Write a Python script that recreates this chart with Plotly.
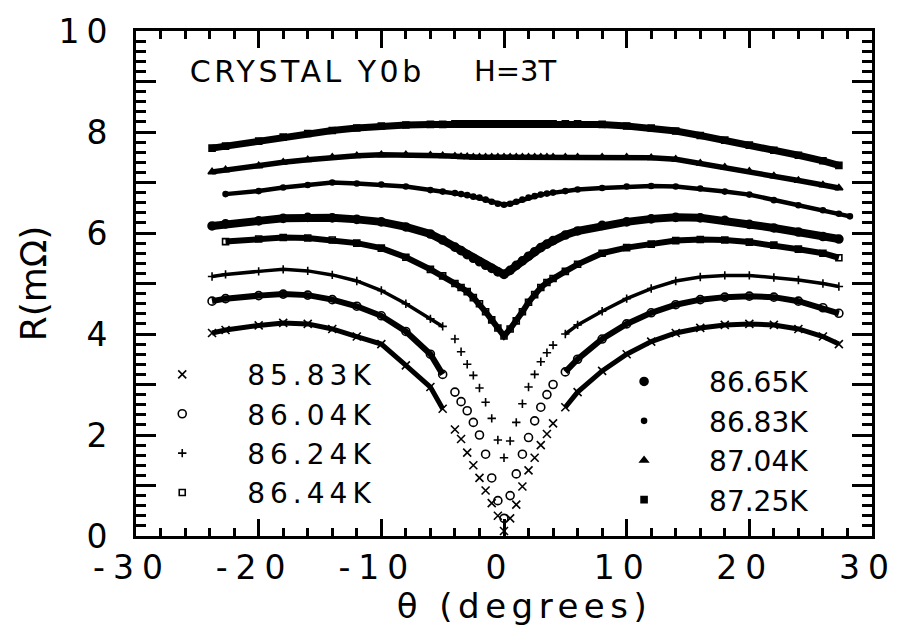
import plotly.graph_objects as go

FONT = "DejaVu Sans"

# Field angle (degrees) at which each resistance curve is tabulated
THETA = [-23.8, -22.7, -20, -18, -16, -14, -12, -10, -8, -6, -5,
         -4, -3.5, -3, -2.5, -2, -1.5, -1, -0.5,
         0,
         0.5, 1, 1.5, 2, 2.5, 3, 3.5, 4,
         5, 6, 8, 10, 12, 14, 16, 18, 20, 22, 24, 26, 27.3, 28.2]

# Resistance R (mOhm) vs angle, one list per temperature
R_8583 = [4.02, 4.08, 4.17, 4.22, 4.20, 4.10, 3.95, 3.80, 3.38, 2.95, 2.52,
          2.11, 1.92, 1.65, 1.40, 1.15, 0.90, 0.65, 0.40,
          0.10,
          0.35, 0.62, 0.98, 1.30, 1.55, 1.80, 2.02, 2.23,
          2.55, 2.85, 3.27, 3.60, 3.85, 4.02, 4.12, 4.18, 4.20, 4.18, 4.10, 3.95, 3.80, None]
R_8604 = [4.65, 4.70, 4.76, 4.79, 4.77, 4.68, 4.55, 4.36, 4.05, 3.60, 3.20,
          2.85, 2.66, 2.48, 2.25, 2.00, 1.62, 1.15, 0.70,
          0.35,
          0.80, 1.23, 1.62, 1.95, 2.28, 2.55, 2.80, 3.00,
          3.25, 3.50, 3.90, 4.20, 4.42, 4.58, 4.68, 4.73, 4.75, 4.73, 4.65, 4.52, 4.41, None]
R_8624 = [5.14, 5.18, 5.24, 5.28, 5.25, 5.17, 5.05, 4.86, 4.60, 4.30, 4.15,
          3.90, 3.65, 3.40, 3.18, 2.93, 2.65, 2.33, 1.90,
          1.55,
          1.88, 2.25, 2.62, 2.95, 3.20, 3.45, 3.63, 3.78,
          4.00, 4.18, 4.45, 4.70, 4.90, 5.05, 5.13, 5.16, 5.16, 5.12, 5.07, 5.00, 4.94, None]
R_8644 = [None, 5.83, 5.88, 5.91, 5.90, 5.86, 5.80, 5.70, 5.52, 5.28, 5.15,
          5.00, 4.92, 4.84, 4.72, 4.60, 4.44, 4.28, 4.12,
          3.96,
          4.10, 4.26, 4.44, 4.63, 4.78, 4.92, 5.02, 5.10,
          5.24, 5.38, 5.60, 5.71, 5.78, 5.85, 5.87, 5.86, 5.82, 5.76, 5.68, 5.60, 5.51, None]
R_8665 = [6.14, 6.18, 6.24, 6.29, 6.31, 6.30, 6.27, 6.22, 6.12, 5.98, 5.86,
          5.72, 5.65, 5.57, 5.50, 5.43, 5.36, 5.30, 5.23,
          5.18,
          5.26, 5.36, 5.45, 5.54, 5.63, 5.71, 5.78, 5.85,
          5.96, 6.04, 6.15, 6.22, 6.28, 6.31, 6.30, 6.25, 6.17, 6.10, 6.02, 5.93, 5.88, None]
R_8683 = [None, 6.77, 6.83, 6.90, 6.95, 7.00, 6.98, 6.96, 6.92, 6.85, 6.82,
          6.79, 6.77, 6.75, 6.72, 6.70, 6.66, 6.62, 6.58,
          6.56,
          6.58, 6.62, 6.66, 6.70, 6.73, 6.76, 6.78, 6.80,
          6.83, 6.86, 6.89, 6.92, 6.93, 6.92, 6.88, 6.82, 6.76, 6.65, 6.55, 6.45, 6.38, 6.33]
R_8704 = [7.21, 7.25, 7.33, 7.40, 7.45, 7.50, 7.53, 7.55, 7.55, 7.54, 7.53,
          7.52, 7.51, 7.51, 7.50, 7.50, 7.50, 7.50, 7.50,
          7.50,
          7.50, 7.50, 7.50, 7.50, 7.50, 7.50, 7.50, 7.50,
          7.50, 7.50, 7.50, 7.50, 7.49, 7.46, 7.38, 7.30, 7.22, 7.13, 7.04, 6.95, 6.89, None]
R_8725 = [7.68, 7.72, 7.82, 7.90, 7.97, 8.03, 8.08, 8.12, 8.14, 8.15, 8.15,
          8.16, 8.16, 8.16, 8.16, 8.16, 8.16, 8.16, 8.16,
          8.16,
          8.16, 8.16, 8.16, 8.16, 8.16, 8.16, 8.16, 8.16,
          8.16, 8.16, 8.15, 8.12, 8.08, 8.02, 7.93, 7.84, 7.74, 7.64, 7.54, 7.43, 7.34, None]

TEMPS = ["85.83K", "86.04K", "86.24K", "86.44K", "86.65K", "86.83K", "87.04K", "87.25K"]
SERIES = [R_8583, R_8604, R_8624, R_8644, R_8665, R_8683, R_8704, R_8725]
assert all(len(s) == len(THETA) for s in SERIES)

# Drawing style for each temperature
SYMBOLS = ["x-thin", "circle-open", "cross-thin", "square-open", "circle", "circle", "triangle-up", "square"]
MARKER_SIZES = [8, 8, 6, 6, 8, 5, 7, 6]
LINE_WIDTHS = [5, 6, 3.5, 6, 8, 4.5, 5.5, 7]
SPARSE_DIP = [True, True, True, False, False, False, False, False]  # only symbols near the minimum
DIP_HALF_WIDTH = 4.5

X_RANGE = [-30, 30]
Y_RANGE = [0, 10]
X_TICKS = [-30, -20, -10, 0, 10, 20, 30]
X_TICK_TEXT = ["-30", "-20", "-10", "0", "10", "20", "30"]
Y_TICKS = list(range(0, 11))
Y_TICK_TEXT = [str(v) if v % 2 == 0 else "" for v in Y_TICKS]

fig = go.Figure()

for i, (temp, r) in enumerate(zip(TEMPS, SERIES)):
    if SPARSE_DIP[i]:
        r_line = [v if (v is not None and abs(t) >= DIP_HALF_WIDTH) else None for t, v in zip(THETA, r)]
    else:
        r_line = r
    fig.add_trace(go.Scatter(
        x=THETA, y=r_line, mode="lines", showlegend=False, hoverinfo="skip",
        line=dict(color="black", width=LINE_WIDTHS[i]),
    ))
    fig.add_trace(go.Scatter(
        x=THETA, y=r, mode="markers", name=temp,
        legend="legend" if i < 4 else "legend2",
        marker=dict(symbol=SYMBOLS[i], size=MARKER_SIZES[i], color="black",
                    line=dict(color="black", width=1.6)),
    ))

axis_common = dict(
    showline=True, linecolor="black", linewidth=3, mirror="ticks",
    ticks="inside", tickcolor="black", tickwidth=3,
    showgrid=False, zeroline=False, ticklabeloverflow="allow",
    tickfont=dict(family=FONT, size=33, color="black"),
)

legend_common = dict(
    xanchor="left", yanchor="top", bgcolor="rgba(0,0,0,0)", borderwidth=0,
    font=dict(family=FONT, size=28, color="black"), itemwidth=120, tracegroupgap=0,
    itemclick=False, itemdoubleclick=False,
)

fig.update_layout(
    width=901, height=639,
    margin=dict(l=136, r=19, t=24, b=103),
    paper_bgcolor="white", plot_bgcolor="white",
    font=dict(family=FONT, color="black"),
    xaxis=dict(range=X_RANGE, tickvals=X_TICKS, ticktext=X_TICK_TEXT, ticklen=17,
               minor=dict(dtick=2, tick0=-30, ticks="inside", ticklen=8, tickwidth=3, tickcolor="black"),
               ticklabelshift=-4, ticklabelstandoff=0, **axis_common),
    yaxis=dict(range=Y_RANGE, tickvals=Y_TICKS, ticktext=Y_TICK_TEXT, ticklen=20,
               minor=dict(dtick=0.2, tick0=0, ticks="inside", ticklen=10, tickwidth=3, tickcolor="black"),
               ticklabelstandoff=12,
               title=dict(text="R(mΩ)", standoff=15, font=dict(family=FONT, size=36, color="black")),
               **axis_common),
    legend=dict(x=-0.0255, y=0.369, **legend_common),
    legend2=dict(x=0.602, y=0.355, **legend_common),
    annotations=[
        dict(text="CRYSTAL Y0b", xref="paper", yref="paper", x=0.232, y=0.92,
             xanchor="center", yanchor="middle", showarrow=False,
             font=dict(family=FONT, size=30, color="black")),
        dict(text="H=3T", xref="paper", yref="paper", x=0.515, y=0.92,
             xanchor="center", yanchor="middle", showarrow=False,
             font=dict(family=FONT, size=29, color="black")),
        dict(text="θ (degrees)", xref="paper", yref="paper", x=0.528, y=-0.139,
             xanchor="center", yanchor="middle", showarrow=False,
             font=dict(family=FONT, size=34, color="black")),
    ],
)

# wide letter tracking of the typeset labels (stylesheet rules survive redraws)
SPACING_JS = """
var css = document.createElement('style');
css.textContent =
  '.xtick text { letter-spacing: 8px !important; }' +
  '.ytick text { letter-spacing: 7px !important; }' +
  'text.legendtext { letter-spacing: 5px !important; }' +
  '.scrollbox { clip-path: none !important; }';
document.head.appendChild(css);
var gd = document.querySelector('.plotly-graph-div');
function trackAnnotations() {
  if (!gd) { return; }
  var ann = {'CRYSTAL Y0b': 3.5, 'θ (degrees)': 5.5};
  gd.querySelectorAll('.annotation-text').forEach(function (t) {
    var px = ann[t.textContent];
    if (px !== undefined && t.style.letterSpacing !== px + 'px') { t.style.letterSpacing = px + 'px'; }
  });
}
trackAnnotations();
if (gd && gd.on) { gd.on('plotly_afterplot', trackAnnotations); }
"""

fig.write_html("out.html", post_script=SPACING_JS)
